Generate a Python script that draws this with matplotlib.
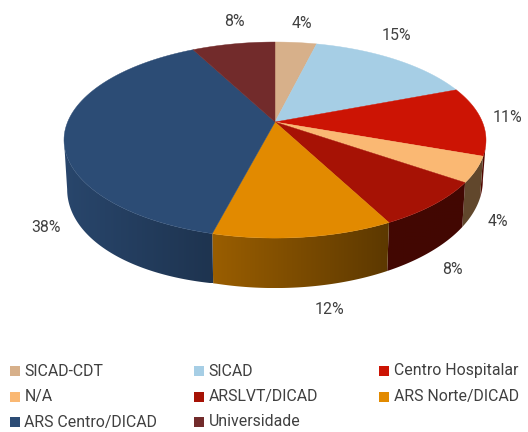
import numpy as np
import matplotlib
matplotlib.use("Agg")
import matplotlib.pyplot as plt
from matplotlib.patches import Polygon, Rectangle
from matplotlib.colors import to_rgb

categories = ["SICAD-CDT", "SICAD", "Centro Hospitalar", "N/A", "ARSLVT/DICAD",
              "ARS Norte/DICAD", "ARS Centro/DICAD", "Universidade"]
values = [3.8, 15.3, 11.4, 4.2, 7.7, 11.6, 38.4, 7.6]
colors = ["#D7B08A", "#A6CEE5", "#CC1404", "#FAB873", "#A61205", "#E28A00", "#2C4C75", "#722B2B"]
# wall brightness at the left and right end of each slice
wall_left = [0.4, 0.4, 0.4, 0.39, 0.4, 0.68, 0.92, 0.6]
wall_right = [0.4, 0.4, 0.4, 0.39, 0.4, 0.41, 0.68, 0.6]

plt.rcParams["font.family"] = ["Roboto", "DejaVu Sans"]
TEXT = "#404040"

# pie geometry, in pixels
CX, CY = 275, 122
A, B, K = 207.4, 94.7, 0.184


def rim(t):
    # circle seen in perspective, t clockwise from the top
    w = 1 + K * np.cos(t)
    return CX + A * np.sin(t) / w, CY - B * np.cos(t) / w


def rim_bottom(t):
    x, y = rim(t)
    return CX + 0.985 * (x - CX), 1.1 * y + 26.2 + np.maximum(0, 215 - x) * 0.06


fig = plt.figure(figsize=(5.28, 4.32), dpi=100)
ax = fig.add_axes([0, 0, 1, 1])
ax.axis("off")

edges = np.cumsum([0] + values) / sum(values) * 2 * np.pi

# side wall, only the part that faces us
T_RIGHT = np.pi - np.arccos(K)
T_LEFT = np.pi + np.arccos(K)
for i, c in enumerate(colors):
    t0, t1 = max(edges[i], T_RIGHT), min(edges[i + 1], T_LEFT)
    if t1 <= t0:
        continue
    ts = np.linspace(t0, t1, 100)
    xt, yt = rim(ts)
    xb, yb = rim_bottom(ts)
    outline = list(zip(xt, yt)) + list(zip(xb[::-1], yb[::-1]))
    clip = Polygon(outline, closed=True, facecolor="none", edgecolor="none", transform=ax.transData)
    ax.add_patch(clip)
    x_lo, x_hi = min(xt.min(), xb.min()), max(xt.max(), xb.max())
    shades = np.linspace(wall_left[i], wall_right[i], 64)
    grad = np.array(to_rgb(c))[None, None, :] * shades[None, :, None]
    im = ax.imshow(grad, extent=(x_lo, x_hi, yb.max(), yt.min()), aspect="auto",
                   interpolation="bilinear", zorder=2)
    im.set_clip_path(clip)

ax.set_xlim(0, 528)
ax.set_ylim(432, 0)

# top face
for i, c in enumerate(colors):
    ts = np.linspace(edges[i], edges[i + 1], 80)
    xs, ys = rim(ts)
    pts = [(CX, CY)] + list(zip(xs, ys))
    ax.add_patch(Polygon(pts, closed=True, facecolor=c, edgecolor=c, linewidth=0.3, zorder=3))

# percent labels
label_x = [302, 396, 507, 498, 452, 330, 46, 234]
label_y = [24, 35, 117, 222, 269, 310, 227, 21]
for v, x, y in zip(values, label_x, label_y):
    ax.text(x, y, f"{v:.0f}%", fontsize=11.4, color=TEXT, ha="center", va="center", zorder=5)

# legend, three columns
leg_x = [10, 194, 379]
leg_y = [371, 397, 422]
for i, (name, c) in enumerate(zip(categories, colors)):
    x = leg_x[i % 3]
    y = leg_y[i // 3]
    ax.add_patch(Rectangle((x, y - 5), 10, 10, facecolor=c, edgecolor="none"))
    ax.text(x + 14.5, y, name, fontsize=11.4, color=TEXT, ha="left", va="center")

fig.savefig("out.png", dpi=100)
